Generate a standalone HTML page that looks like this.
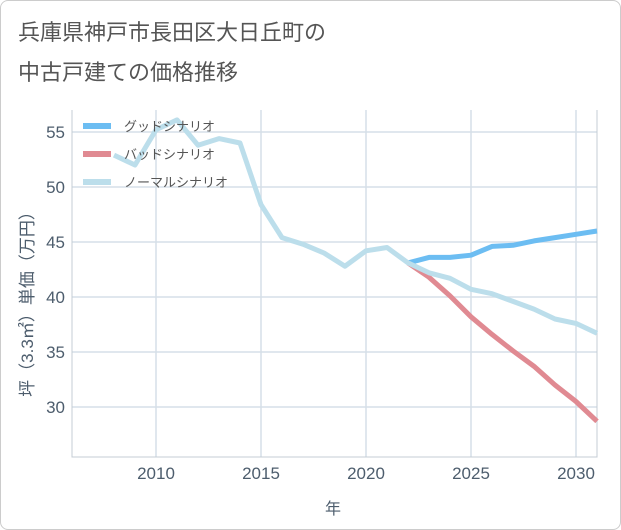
<!DOCTYPE html>
<html><head><meta charset="utf-8"><style>
body{margin:0;background:#fff;font-family:"Liberation Sans","Noto Sans CJK JP",sans-serif}
#wrap{position:relative;width:619px;height:528px;border:1px solid #ccc;border-radius:8px;overflow:hidden;background:#fff}
</style></head><body>
<div id="wrap">
<svg id="chart" width="621" height="530" style="position:absolute;left:-1px;top:-1px"></svg>
</div>
<script>
const years=[2008,2009,2010,2011,2012,2013,2014,2015,2016,2017,2018,2019,2020,2021,2022,2023,2024,2025,2026,2027,2028,2029,2030,2031];
const normal=[52.9,52.0,55.2,56.1,53.8,54.4,54.0,48.4,45.4,44.8,44.0,42.8,44.2,44.5,43.1,42.2,41.7,40.7,40.3,39.6,38.9,38.0,37.6,36.7];
const goodYears=[2022,2023,2024,2025,2026,2027,2028,2029,2030,2031];
const good=[43.1,43.6,43.6,43.8,44.6,44.7,45.1,45.4,45.7,46.0];
const bad=[43.1,41.8,40.1,38.2,36.6,35.1,33.7,32.0,30.5,28.7];
const xTicks=[2010,2015,2020,2025,2030];
const yTicks=[30,35,40,45,50,55];
const ns="http://www.w3.org/2000/svg";
const svg=document.getElementById('chart');
const L=72,R=597,T=110,B=457;
const x=v=>L+(v-2006)*(R-L)/25;
const y=v=>132+(55-v)*11;
function mk(t,a,p){const e=document.createElementNS(ns,t);for(const k in a)e.setAttribute(k,a[k]);(p||svg).appendChild(e);return e;}
function txt(s,a){const e=mk('text',a);e.textContent=s;return e;}
let t1=txt('兵庫県神戸市長田区大日丘町の',{x:18,y:40,'font-size':22,fill:'#555'});


let t2=txt('中古戸建ての価格推移',{x:18,y:80,'font-size':22,fill:'#555'});


xTicks.forEach(v=>{const l=mk('line',{x1:x(v),x2:x(v),y1:T,y2:B,stroke:'#d5dfe8','stroke-width':1.5});


const tt=txt(v,{x:x(v),y:479,'text-anchor':'middle','font-size':17,fill:'#4d5d6d'});

});
yTicks.forEach(v=>{const l=mk('line',{x1:L,x2:R,y1:y(v),y2:y(v),stroke:'#d5dfe8','stroke-width':1.5});


const tt=txt(v,{x:65,y:y(v)+6,'text-anchor':'end','font-size':17,fill:'#4d5d6d'});

});
const ax=mk('path',{d:`M${L} ${T}V${B}H${R}V${T}`,fill:'none',stroke:'#c4ccd4','stroke-width':1});


function line(xs,vs,c,n){const d=xs.map((v,i)=>(i?'L':'M')+x(v)+' '+y(vs[i])).join('');
const p=mk('path',{d,fill:'none',stroke:c,'stroke-width':5,'stroke-linejoin':'round'});

}
line(goodYears,bad,'#e08a92','bad-scenario-line');
line(goodYears,good,'#6cbdf2','good-scenario-line');
line(years,normal,'#bcdeeb','normal-scenario-line');
[['グッドシナリオ','#6cbdf2'],['バッドシナリオ','#e08a92'],['ノーマルシナリオ','#bcdeeb']].forEach((e,i)=>{
const yy=126+i*28;const l=mk('line',{x1:83,x2:111,y1:yy,y2:yy,stroke:e[1],'stroke-width':6});


const tt=txt(e[0],{x:124,y:yy+5,'font-size':13,fill:'#555'});

});
const xt=txt('年',{x:333,y:514,'text-anchor':'middle','font-size':16,fill:'#4d5d6d'});


const yt=txt('坪（3.3㎡）単価（万円）',{x:0,y:0,'text-anchor':'middle','font-size':17,fill:'#4d5d6d',transform:'translate(33,300) rotate(-90)'});


</script>
</body></html>
